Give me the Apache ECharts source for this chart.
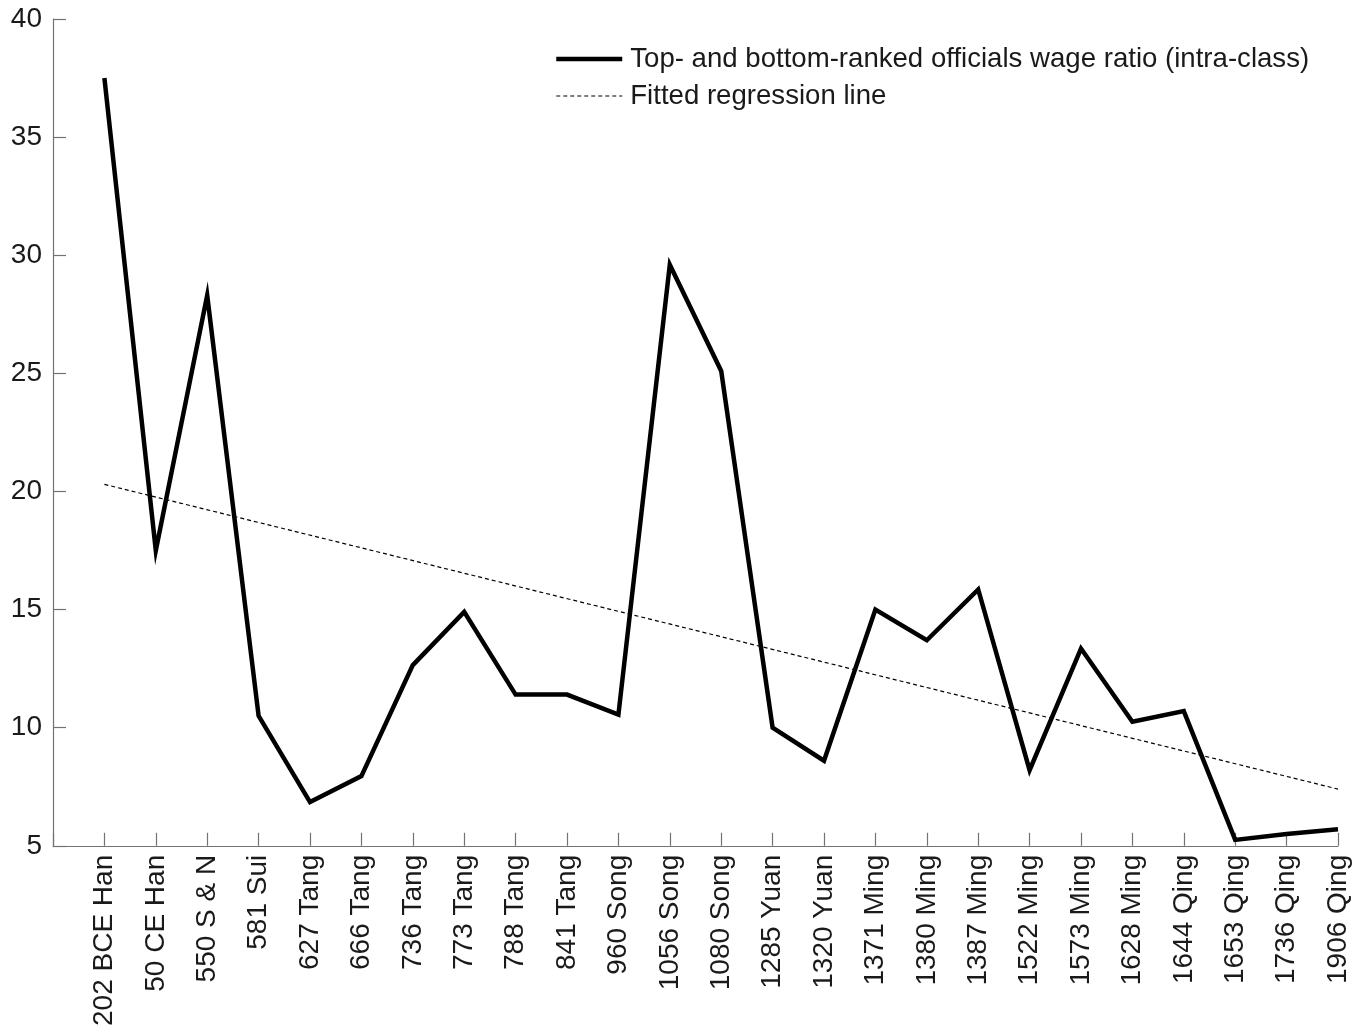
<!DOCTYPE html>
<html>
<head>
<meta charset="utf-8">
<style>
  html, body { margin: 0; padding: 0; background: #ffffff; }
  #chart { width: 1372px; height: 1029px; }
</style>
<script src="https://cdn.jsdelivr.net/npm/echarts@6/dist/echarts.min.js"></script>
</head>
<body>
<div id="chart"></div>
<script>
// Dynasty / year labels along the x axis
const periods = [
  '202 BCE Han', '50 CE Han', '550 S & N', '581 Sui', '627 Tang', '666 Tang',
  '736 Tang', '773 Tang', '788 Tang', '841 Tang', '960 Song', '1056 Song',
  '1080 Song', '1285 Yuan', '1320 Yuan', '1371 Ming', '1380 Ming', '1387 Ming',
  '1522 Ming', '1573 Ming', '1628 Ming', '1644 Qing', '1653 Qing', '1736 Qing',
  '1906 Qing'
];

// Ratio of top- to bottom-ranked officials' wages within the class
const wageRatio = [
  37.5, 17.5, 28.3, 10.5, 6.85, 7.95,
  12.65, 14.9, 11.4, 11.4, 10.55, 29.6,
  25.1, 10.0, 8.6, 15.0, 13.7, 15.85,
  8.2, 13.35, 10.25, 10.7, 5.25, 5.5,
  5.7
];

// Fitted regression line: value at the first and at the last period
const fitEnds = [20.3, 7.4];

const yTicks = [5, 10, 15, 20, 25, 30, 35, 40];

const seriesNames = [
  'Top- and bottom-ranked officials wage ratio (intra-class)',
  'Fitted regression line'
];

const font = '"Liberation Sans", Arial, Helvetica, sans-serif';
const axisGray = '#737373';
const textColor = '#1a1a1a';
const mainWidth = 4.5;
const fitWidth = 1.2;
const fitDash = [4, 3];

const chart = echarts.init(document.getElementById('chart'), null, { renderer: 'canvas' });

chart.setOption({
  backgroundColor: '#ffffff',
  animation: false,
  textStyle: { fontFamily: font },
  grid: { left: 53, right: 34, top: 19, bottom: 180, containLabel: false },
  legend: {
    orient: 'vertical',
    left: 549,
    top: 40,
    itemWidth: 66,
    itemHeight: 14,
    itemGap: 9,
    itemStyle: { opacity: 0 },
    textStyle: { fontFamily: font, fontSize: 27.6, lineHeight: 28, color: textColor, padding: [0, 0, 0, 3] },
    data: [
      { name: seriesNames[0], lineStyle: { width: mainWidth, color: '#000000' } },
      { name: seriesNames[1], lineStyle: { width: fitWidth, color: '#000000', type: fitDash } }
    ]
  },
  xAxis: {
    type: 'value',
    min: -1,
    max: periods.length - 1,
    interval: 1,
    splitLine: { show: false },
    axisLine: { show: true, onZero: false, lineStyle: { color: axisGray, width: 1.2 } },
    axisTick: { show: true, inside: true, length: 13, lineStyle: { color: axisGray, width: 1.2 } },
    axisLabel: {
      rotate: 90,
      fontFamily: font,
      fontSize: 28,
      color: textColor,
      margin: 9,
      showMinLabel: true,
      showMaxLabel: true,
      formatter: function (v) {
        return v >= 0 && v < periods.length ? periods[v] : '';
      }
    }
  },
  yAxis: {
    type: 'value',
    min: yTicks[0],
    max: yTicks[yTicks.length - 1],
    interval: yTicks[1] - yTicks[0],
    splitLine: { show: false },
    axisLine: { show: true, onZero: false, lineStyle: { color: axisGray, width: 1.2 } },
    axisTick: { show: true, inside: true, length: 13, lineStyle: { color: axisGray, width: 1.2 } },
    axisLabel: { fontFamily: font, fontSize: 28, color: textColor, margin: 11 }
  },
  series: [
    {
      name: seriesNames[0],
      type: 'line',
      symbol: 'none',
      data: wageRatio.map((v, i) => [i, v]),
      lineStyle: { color: '#000000', width: mainWidth, join: 'miter' },
      itemStyle: { color: '#000000' },
      z: 3
    },
    {
      name: seriesNames[1],
      type: 'line',
      symbol: 'none',
      data: [[0, fitEnds[0]], [periods.length - 1, fitEnds[1]]],
      lineStyle: { color: '#000000', width: fitWidth, type: fitDash },
      itemStyle: { color: '#000000' },
      z: 2
    }
  ]
});
</script>
</body>
</html>
